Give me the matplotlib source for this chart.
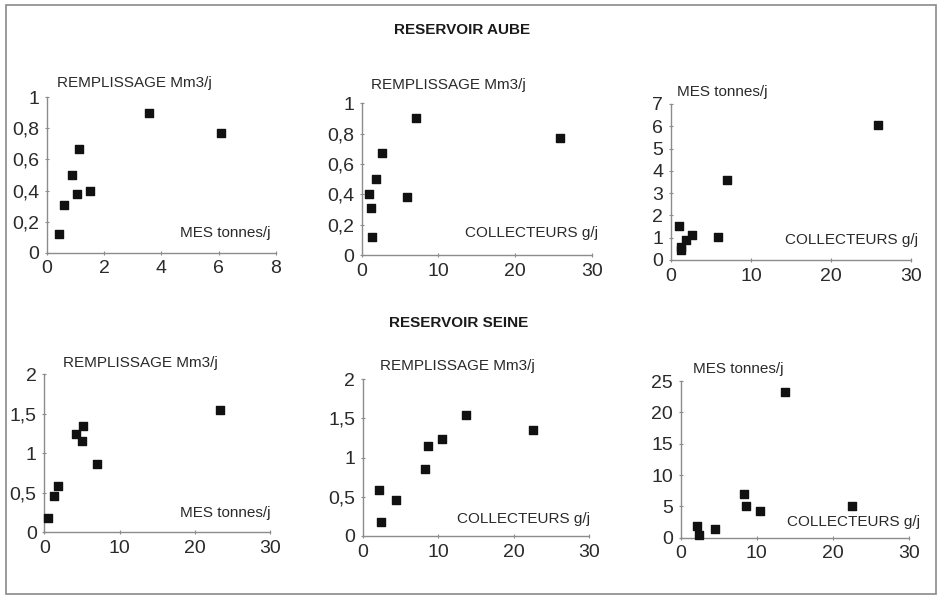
import numpy as np
import matplotlib
matplotlib.use('Agg')
import matplotlib.pyplot as plt
from matplotlib.ticker import FuncFormatter, MultipleLocator

plt.rcParams['font.family'] = ['Liberation Sans', 'DejaVu Sans']

# Reservoir Aube
aube_collecteurs = [1.0, 1.22, 1.30, 1.91, 2.61, 5.87, 7.04, 25.9]
aube_mes = [1.51, 0.60, 0.44, 0.90, 1.13, 1.05, 3.58, 6.07]
aube_remplissage = [0.40, 0.31, 0.12, 0.50, 0.67, 0.38, 0.90, 0.77]

# Reservoir Seine
seine_collecteurs = [2.1, 2.4, 4.45, 8.3, 8.6, 10.45, 13.7, 22.5]
seine_mes = [1.8, 0.43, 1.33, 6.95, 5.0, 4.18, 23.3, 5.1]
seine_remplissage = [0.59, 0.18, 0.46, 0.86, 1.15, 1.24, 1.55, 1.35]

W, H = 940, 597
fig = plt.figure(figsize=(W / 100, H / 100), dpi=100)

# cadre autour de la figure
fig.patches.append(plt.Rectangle((6 / W, 1 - 594 / H), 930 / W, 589 / H,
                                 transform=fig.transFigure, fill=False,
                                 edgecolor='#8a8a8a', linewidth=1.2))


def fmt(v, pos):
    return f'{v:g}'.replace('.', ',')


def panel(box, x, y, xlim, ylim, xstep, ystep, ylabel, ylab_pos, xlabel, xlab_pos):
    x0, x1, yb, yt = box
    ax = fig.add_axes([x0 / W, 1 - yb / H, (x1 - x0) / W, (yb - yt) / H])
    ax.scatter(x, y, marker='s', s=26, color='#111111', zorder=3, clip_on=False)
    ax.set_xlim(*xlim)
    ax.set_ylim(*ylim)
    ax.xaxis.set_major_locator(MultipleLocator(xstep))
    ax.yaxis.set_major_locator(MultipleLocator(ystep))
    ax.xaxis.set_major_formatter(FuncFormatter(fmt))
    ax.yaxis.set_major_formatter(FuncFormatter(fmt))
    ax.set_facecolor('none')
    for s in ['top', 'right']:
        ax.spines[s].set_visible(False)
    for s in ['left', 'bottom']:
        ax.spines[s].set_color('#8c8c8c')
        ax.spines[s].set_linewidth(1.0)
    ax.tick_params(length=3, width=0.8, color='#8c8c8c', direction='inout',
                   labelsize=14, labelcolor='#2a2a2a', pad=4)
    fig.text(ylab_pos[0] / W, 1 - ylab_pos[1] / H, ylabel, fontsize=11,
             color='#2a2a2a', ha='left', va='center')
    fig.text(xlab_pos[0] / W, 1 - xlab_pos[1] / H, xlabel, fontsize=11,
             color='#2a2a2a', ha='right', va='center')
    return ax


fig.text(462 / W, 1 - 30 / H, 'RESERVOIR AUBE', fontsize=11, fontweight='bold',
         color='#1a1a1a', ha='center', va='center')
fig.text(459 / W, 1 - 323 / H, 'RESERVOIR SEINE', fontsize=11, fontweight='bold',
         color='#1a1a1a', ha='center', va='center')

panel((46.7, 276, 252.7, 97.3), aube_mes, aube_remplissage, (0, 8), (0, 1), 2, 0.2,
      'REMPLISSAGE Mm3/j', (57, 83), 'MES tonnes/j', (270, 233))
panel((361.7, 591.7, 255, 103.3), aube_collecteurs, aube_remplissage, (0, 30), (0, 1), 10, 0.2,
      'REMPLISSAGE Mm3/j', (371, 85), 'COLLECTEURS g/j', (598, 233))
panel((671, 910.7, 260, 104), aube_collecteurs, aube_mes, (0, 30), (0, 7), 10, 1,
      'MES tonnes/j', (677, 92), 'COLLECTEURS g/j', (918, 240))

panel((44.3, 270, 532.3, 374.3), seine_mes, seine_remplissage, (0, 30), (0, 2), 10, 0.5,
      'REMPLISSAGE Mm3/j', (63, 363), 'MES tonnes/j', (270, 513))
panel((362.7, 589.3, 536, 379.3), seine_collecteurs, seine_remplissage, (0, 30), (0, 2), 10, 0.5,
      'REMPLISSAGE Mm3/j', (380, 366), 'COLLECTEURS g/j', (590, 519))
panel((680.7, 908.7, 537.7, 381), seine_collecteurs, seine_mes, (0, 30), (0, 25), 10, 5,
      'MES tonnes/j', (693, 369), 'COLLECTEURS g/j', (920, 522))

fig.savefig('out.png', dpi=100, facecolor='white')
